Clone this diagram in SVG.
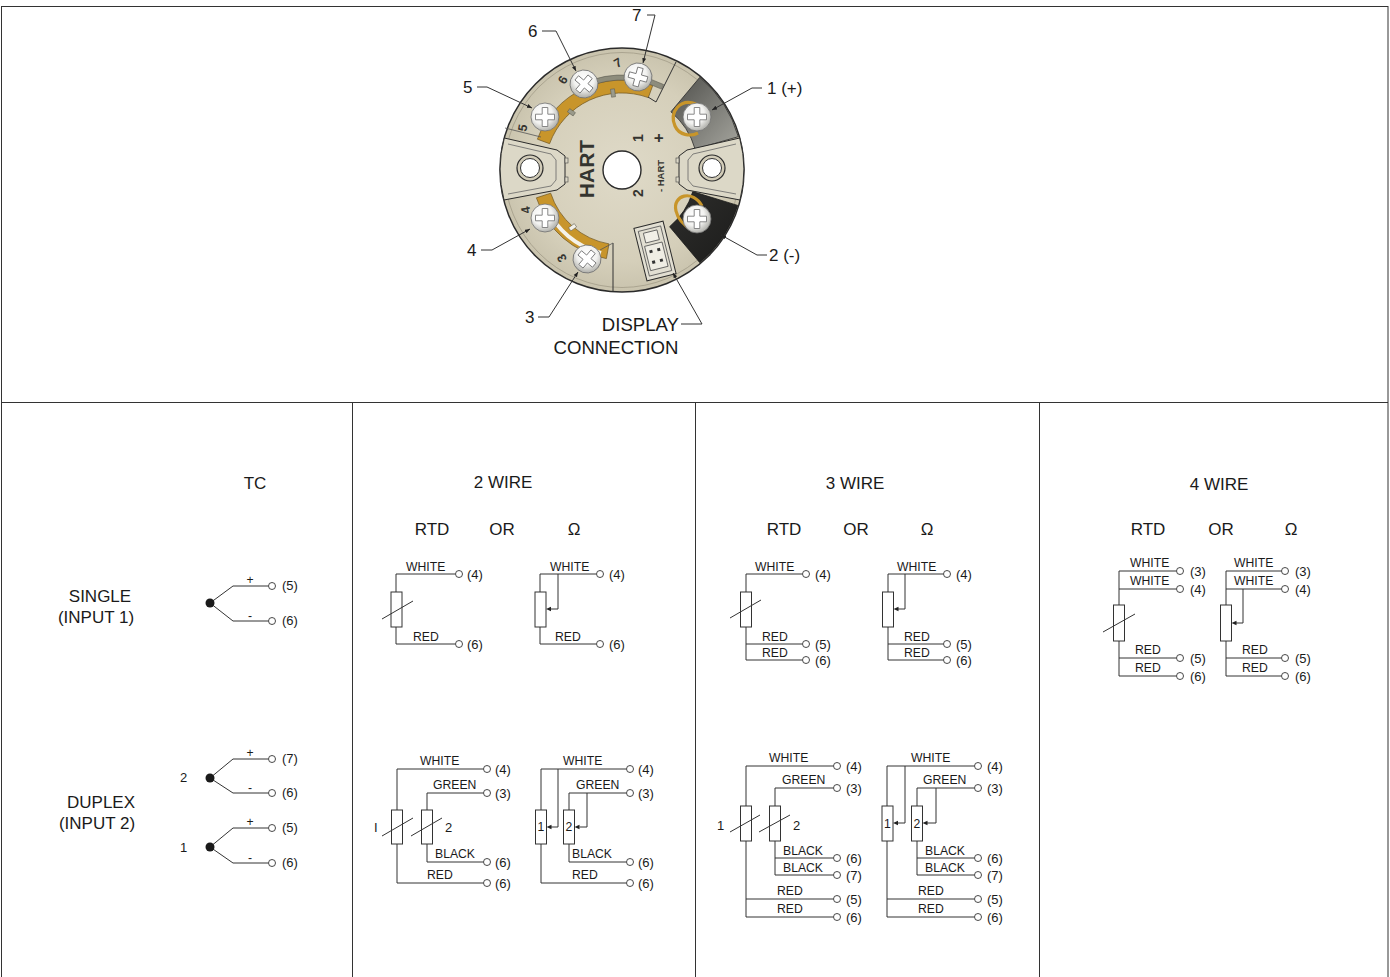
<svg xmlns="http://www.w3.org/2000/svg" width="1390" height="977" viewBox="0 0 1390 977">
  <defs>
    <style>
      .frame { fill: none; stroke: #333; stroke-width: 1; }
      .w { fill: none; stroke: #333; stroke-width: 1; }
      .lead { fill: none; stroke: #333; stroke-width: 1; marker-end: url(#tip); }
      .term { fill: #fff; stroke: #333; stroke-width: 0.9; }
      .res { fill: #fff; stroke: #333; stroke-width: 1; }
      .arr { fill: #222; stroke: none; }
      .dot { fill: #1a1a1a; }
      text { font-family: "Liberation Sans", Arial, sans-serif; fill: #1a1a1a; }
      .big { font-size: 17px; }
      .cap { font-size: 18.6px; }
      .sm { font-size: 12.2px; }
      .tn { font-size: 13px; }
      .mid { text-anchor: middle; }
      .end { text-anchor: end; }
      .dev { font-weight: bold; fill: #34342f; }
    </style>
    <marker id="tip" markerWidth="6" markerHeight="6" refX="5" refY="3" orient="auto" markerUnits="userSpaceOnUse">
      <path d="M0,1 L5,3 L0,5 Z" fill="#222"/>
    </marker>
    <radialGradient id="discFill" cx="0.5" cy="0.5" r="0.5">
      <stop offset="0" stop-color="#dfdac8"/>
      <stop offset="0.75" stop-color="#d5cfba"/>
      <stop offset="1" stop-color="#c9c3ad"/>
    </radialGradient>
    <radialGradient id="screwFill" cx="0.4" cy="0.38" r="0.6">
      <stop offset="0" stop-color="#ffffff"/>
      <stop offset="0.6" stop-color="#f2f2f0"/>
      <stop offset="1" stop-color="#b9b9b4"/>
    </radialGradient>
    <linearGradient id="plusGrey" x1="0" y1="0" x2="1" y2="1">
      <stop offset="0" stop-color="#4e4e4a"/>
      <stop offset="1" stop-color="#a5a59e"/>
    </linearGradient>
    <linearGradient id="minusBlack" x1="0" y1="0" x2="1" y2="1">
      <stop offset="0" stop-color="#2e2e2c"/>
      <stop offset="1" stop-color="#1c1c1b"/>
    </linearGradient>
    <g id="screw">
      <circle r="14" fill="url(#screwFill)" stroke="#707070" stroke-width="0.8"/>
      <path d="M-2.8,-9.5 h5.6 v6.7 h6.7 v5.6 h-6.7 v6.7 h-5.6 v-6.7 h-6.7 v-5.6 h6.7 z" fill="#fff" stroke="#7a7a7a" stroke-width="0.9"/>
    </g>
    <g id="wiperTip">
      <path d="M0,0 L5,-2.2 L5,2.2 Z"/>
    </g>
  </defs>

  <rect width="1390" height="977" fill="#fff"/>

  <!-- panel frame -->
  <g id="frame">
    <rect class="frame" x="1.5" y="6.5" width="1386.5" height="1000"/>
    <line class="frame" x1="1.5" y1="402.5" x2="1388" y2="402.5"/>
    <line class="frame" x1="352.5" y1="402.5" x2="352.5" y2="977"/>
    <line class="frame" x1="695.5" y1="402.5" x2="695.5" y2="977"/>
    <line class="frame" x1="1039.5" y1="402.5" x2="1039.5" y2="977"/>
  </g>

  <!-- transmitter head, top view -->
  <g id="transmitter">
    <circle cx="622" cy="170" r="122" fill="url(#discFill)" stroke="#2b2b2b" stroke-width="1.5"/>
    <circle cx="622" cy="170" r="117.5" fill="none" stroke="#a29c88" stroke-width="0.8"/>

    <!-- input terminal strips -->
    <path d="M537.4,139.2 A90,90 0 0 1 652.8,85.4 L648.3,97.6 A77,77 0 0 0 549.6,143.7 Z" fill="#c8952b" stroke="#6e5520" stroke-width="0.7"/>
    <path d="M571.7,89.4 A95,95 0 0 1 663.7,84.6 L661.5,89.1 A90,90 0 0 0 574.3,93.7 Z" fill="#8d8c7c" stroke="#5c5b50" stroke-width="0.6"/>
    <path d="M536.4,197.8 A90,90 0 0 0 606.4,258.6 L609.0,243.9 A75,75 0 0 1 550.7,193.2 Z" fill="#c8952b" stroke="#6e5520" stroke-width="0.7"/>
    <path d="M546,207 A84,84 0 0 0 601,253" fill="none" stroke="#f4f2ea" stroke-width="4"/>
    <rect x="569" y="109" width="4" height="7" fill="#9a9a8a" stroke="#55554a" stroke-width="0.5" transform="rotate(-55 571 112)"/>
    <rect x="611" y="89" width="4" height="8" fill="#9a9a8a" stroke="#55554a" stroke-width="0.5" transform="rotate(-8 613 93)"/>
    <rect x="571" y="224" width="4" height="7" fill="#f4f2ea" stroke="#55554a" stroke-width="0.5" transform="rotate(55 573 227)"/>

    <!-- block outlines -->
    <path d="M676,62 L656,102 L648,97" class="w"/>
    <path d="M505,128 L541,137" fill="none" stroke="#555" stroke-width="0.8"/>
    <path d="M613,243 L613,291.5" class="w"/>
    <path d="M600,250 L613,243" fill="none" stroke="#555" stroke-width="0.8"/>

    <!-- supply terminal sectors -->
    <path d="M699.8,77.3 A121,121 0 0 1 738.3,136.7 L695.1,149.1 A76,76 0 0 0 670.9,111.8 Z" fill="url(#plusGrey)" stroke="#2b2b2b" stroke-width="0.8"/>
    <path d="M737.7,205.4 A121,121 0 0 1 699.8,262.7 L669.6,226.7 A74,74 0 0 0 692.8,191.6 Z" fill="url(#minusBlack)" stroke="#1a1a1a" stroke-width="0.8"/>

    <!-- mounting ears -->
    <path d="M504.3,138 L557,150 L565,156 L565,184 L557,190 L504,200 A122,122 0 0 1 504.3,138 Z" fill="#dcd8c7" stroke="#2b2b2b" stroke-width="1"/>
    <path d="M508,144 L551,154 L556,160 L556,180 L551,186 L508,194" fill="none" stroke="#666" stroke-width="0.8"/>
    <rect x="565" y="158" width="3" height="5" fill="#dcd8c7" stroke="#444" stroke-width="0.6"/>
    <rect x="565" y="177" width="3" height="5" fill="#dcd8c7" stroke="#444" stroke-width="0.6"/>
    <circle cx="530" cy="168" r="13" fill="#d2ccb8" stroke="#2b2b2b" stroke-width="1.2"/>
    <circle cx="530" cy="168" r="9.5" fill="#fff" stroke="#333" stroke-width="1"/>

    <path d="M739.7,138 L687,150 L679,156 L679,184 L687,190 L740,200 A122,122 0 0 0 739.7,138 Z" fill="#dcd8c7" stroke="#2b2b2b" stroke-width="1"/>
    <path d="M736,144 L693,154 L688,160 L688,180 L693,186 L736,194" fill="none" stroke="#666" stroke-width="0.8"/>
    <rect x="676" y="158" width="3" height="5" fill="#dcd8c7" stroke="#444" stroke-width="0.6"/>
    <rect x="676" y="177" width="3" height="5" fill="#dcd8c7" stroke="#444" stroke-width="0.6"/>
    <circle cx="712" cy="168" r="13" fill="#d2ccb8" stroke="#2b2b2b" stroke-width="1.2"/>
    <circle cx="712" cy="168" r="9.5" fill="#fff" stroke="#333" stroke-width="1"/>

    <!-- centre bore -->
    <circle cx="622" cy="170" r="19" fill="#fff" stroke="#2b2b2b" stroke-width="1.4"/>

    <!-- gold clips of the supply terminals -->
    <path d="M696,104 C680,98 669,112 675,126 C679,135 690,137 698,133" fill="none" stroke="#c8952a" stroke-width="3.2"/>
    <path d="M702,206 C693,189 672,195 676,211 C678,220 685,226 692,230" fill="none" stroke="#c8952a" stroke-width="3.2"/>

    <!-- screws -->
    <use href="#screw" transform="translate(545,117)"/>
    <use href="#screw" transform="translate(584,84) rotate(40)"/>
    <use href="#screw" transform="translate(638,77) rotate(15)"/>
    <use href="#screw" transform="translate(697,117)"/>
    <use href="#screw" transform="translate(697,219)"/>
    <use href="#screw" transform="translate(545,218)"/>
    <use href="#screw" transform="translate(587,259) rotate(40)"/>

    <!-- display plug -->
    <g transform="translate(655,251) rotate(-14)">
      <rect x="-15" y="-27" width="30" height="54" fill="#e2dfd2" stroke="#2b2b2b" stroke-width="1"/>
      <rect x="-11.5" y="-23" width="23" height="46" fill="none" stroke="#555" stroke-width="0.8"/>
      <rect x="-7" y="-20" width="14" height="10" fill="#f1efe7" stroke="#555" stroke-width="0.8"/>
      <rect x="-9" y="-7" width="18" height="25" fill="#efede4" stroke="#555" stroke-width="0.8"/>
      <rect x="-5.5" y="-2" width="3" height="3" fill="#333"/>
      <rect x="2.5" y="-2" width="3" height="3" fill="#333"/>
      <rect x="-5.5" y="9" width="3" height="3" fill="#333"/>
      <rect x="2.5" y="9" width="3" height="3" fill="#333"/>
    </g>

    <!-- printed markings -->
    <text class="dev mid" font-size="21" transform="translate(594,169) rotate(-90)">HART</text>
    <text class="dev mid" font-size="14" transform="translate(643,138) rotate(-90)">1</text>
    <text class="dev mid" font-size="14" transform="translate(643,193) rotate(-90)">2</text>
    <text class="dev mid" font-size="16" transform="translate(664,138) rotate(-90)">+</text>
    <text class="dev mid" font-size="9.5" transform="translate(664,176) rotate(-90)">- HART</text>
    <text class="dev mid" font-size="12.5" transform="translate(523,128) rotate(-80) translate(0,4)">5</text>
    <text class="dev mid" font-size="12.5" transform="translate(563,80) rotate(-60) translate(0,4)">6</text>
    <text class="dev mid" font-size="12.5" transform="translate(618,63) rotate(-30) translate(0,4)">7</text>
    <text class="dev mid" font-size="12.5" transform="translate(526,210) rotate(-100) translate(0,4)">4</text>
    <text class="dev mid" font-size="12.5" transform="translate(562,258) rotate(-120) translate(0,4)">3</text>
  </g>

  <!-- terminal call-outs -->
  <g id="callouts">
    <path class="lead" d="M647,15 H655 L643,63"/>
    <path class="lead" d="M542,31 H556 L576,71"/>
    <path class="lead" d="M477,87 H487 L532,108"/>
    <path class="lead" d="M762,88 H752 L712,110"/>
    <path class="lead" d="M767,255 H757 L721,235"/>
    <path class="lead" d="M481,250 H492 L530,229"/>
    <path class="lead" d="M538,317 H549 L578,272"/>
    <path class="lead" d="M681,324 H702 L673,273"/>
    <text class="big" x="632" y="21">7</text>
    <text class="big" x="528" y="37">6</text>
    <text class="big" x="463" y="93">5</text>
    <text class="big" x="767" y="94">1 (+)</text>
    <text class="big" x="769" y="261">2 (-)</text>
    <text class="big" x="467" y="256">4</text>
    <text class="big" x="525" y="323">3</text>
    <text class="cap end" x="679" y="331">DISPLAY</text>
    <text class="cap mid" x="616" y="354">CONNECTION</text>
  </g>

  <!-- column and row headings -->
  <g id="headings">
    <text class="big mid" x="255" y="489">TC</text>
    <text class="big mid" x="503" y="488">2 WIRE</text>
    <text class="big mid" x="855" y="489">3 WIRE</text>
    <text class="big mid" x="1219" y="490">4 WIRE</text>
    <text class="big mid" x="432" y="535">RTD</text>
    <text class="big mid" x="502" y="535">OR</text>
    <text class="big mid" x="574" y="535">Ω</text>
    <text class="big mid" x="784" y="535">RTD</text>
    <text class="big mid" x="856" y="535">OR</text>
    <text class="big mid" x="927" y="535">Ω</text>
    <text class="big mid" x="1148" y="535">RTD</text>
    <text class="big mid" x="1221" y="535">OR</text>
    <text class="big mid" x="1291" y="535">Ω</text>
    <text class="big mid" x="100" y="602">SINGLE</text>
    <text class="big mid" x="96" y="623">(INPUT 1)</text>
    <text class="big mid" x="101" y="808">DUPLEX</text>
    <text class="big mid" x="97" y="829">(INPUT 2)</text>
  </g>

  <!-- thermocouple, single input -->
  <g id="tc-single">
    <path class="w" d="M210,603 L233,586 H268.5 M210,603 L233,621 H268.5"/>
    <circle class="dot" cx="210" cy="603" r="4.5"/>
    <circle class="term" cx="272" cy="586" r="3.5"/>
    <circle class="term" cx="272" cy="621" r="3.5"/>
    <text class="sm mid" x="250" y="584">+</text>
    <text class="sm mid" x="250" y="620">-</text>
    <text class="tn" x="282" y="590">(5)</text>
    <text class="tn" x="282" y="625">(6)</text>
  </g>

  <!-- thermocouple, duplex input -->
  <g id="tc-duplex">
    <path class="w" d="M210,778 L233,759 H268.5 M210,778 L233,793 H268.5 M210,847 L233,828 H268.5 M210,847 L233,863 H268.5"/>
    <circle class="dot" cx="210" cy="778" r="4.5"/>
    <circle class="dot" cx="210" cy="847" r="4.5"/>
    <circle class="term" cx="272" cy="759" r="3.5"/>
    <circle class="term" cx="272" cy="793" r="3.5"/>
    <circle class="term" cx="272" cy="828" r="3.5"/>
    <circle class="term" cx="272" cy="863" r="3.5"/>
    <text class="sm mid" x="250" y="757">+</text>
    <text class="sm mid" x="250" y="792">-</text>
    <text class="sm mid" x="250" y="826">+</text>
    <text class="sm mid" x="250" y="862">-</text>
    <text class="tn" x="282" y="763">(7)</text>
    <text class="tn" x="282" y="797">(6)</text>
    <text class="tn" x="282" y="832">(5)</text>
    <text class="tn" x="282" y="867">(6)</text>
    <text class="tn" x="180" y="782">2</text>
    <text class="tn" x="180" y="852">1</text>
  </g>

  <!-- 2 wire RTD, single -->
  <g id="rtd2-single">
    <path class="w" d="M455.5,574 H396 V644 H455.5"/>
    <rect class="res" x="391" y="592" width="11" height="35"/>
    <line class="w" x1="382" y1="619" x2="413" y2="601"/>
    <circle class="term" cx="459" cy="574" r="3.5"/>
    <circle class="term" cx="459" cy="644" r="3.5"/>
    <text class="sm" x="406" y="571">WHITE</text>
    <text class="sm" x="413" y="641">RED</text>
    <text class="tn" x="467" y="579">(4)</text>
    <text class="tn" x="467" y="649">(6)</text>
  </g>

  <!-- 2 wire potentiometer, single -->
  <g id="ohm2-single">
    <path class="w" d="M596.5,574 H540 V644 H596.5"/>
    <rect class="res" x="535" y="592" width="11" height="35"/>
    <path class="w" d="M558,574 V609 H550"/>
    <use href="#wiperTip" class="arr" transform="translate(546,609)"/>
    <circle class="term" cx="600" cy="574" r="3.5"/>
    <circle class="term" cx="600" cy="644" r="3.5"/>
    <text class="sm" x="550" y="571">WHITE</text>
    <text class="sm" x="555" y="641">RED</text>
    <text class="tn" x="609" y="579">(4)</text>
    <text class="tn" x="609" y="649">(6)</text>
  </g>

  <!-- 2 wire RTD, duplex -->
  <g id="rtd2-duplex">
    <path class="w" d="M483.5,769 H397 V883 H483.5 M483.5,793 H427 V862 H483.5"/>
    <rect class="res" x="391.5" y="810" width="11" height="34"/>
    <rect class="res" x="421.5" y="810" width="11" height="34"/>
    <line class="w" x1="382" y1="836" x2="413" y2="818"/>
    <line class="w" x1="411" y1="836" x2="442" y2="818"/>
    <circle class="term" cx="487" cy="769" r="3.5"/>
    <circle class="term" cx="487" cy="793" r="3.5"/>
    <circle class="term" cx="487" cy="862" r="3.5"/>
    <circle class="term" cx="487" cy="883" r="3.5"/>
    <text class="sm" x="420" y="765">WHITE</text>
    <text class="sm" x="433" y="789">GREEN</text>
    <text class="sm" x="435" y="858">BLACK</text>
    <text class="sm" x="427" y="879">RED</text>
    <text class="tn" x="495" y="774">(4)</text>
    <text class="tn" x="495" y="798">(3)</text>
    <text class="tn" x="495" y="867">(6)</text>
    <text class="tn" x="495" y="888">(6)</text>
    <text class="tn" x="374" y="832">I</text>
    <text class="tn" x="445" y="832">2</text>
  </g>

  <!-- 2 wire potentiometer, duplex -->
  <g id="ohm2-duplex">
    <path class="w" d="M626.5,769 H541 V883 H626.5 M626.5,793 H569 V862 H626.5"/>
    <rect class="res" x="535.5" y="810" width="11" height="34"/>
    <rect class="res" x="563.5" y="810" width="11" height="34"/>
    <path class="w" d="M558,769 V827 H550.5 M587,793 V827 H579.5"/>
    <use href="#wiperTip" class="arr" transform="translate(546.5,827)"/>
    <use href="#wiperTip" class="arr" transform="translate(574.5,827)"/>
    <text class="sm mid" x="541" y="831">1</text>
    <text class="sm mid" x="569" y="831">2</text>
    <circle class="term" cx="630" cy="769" r="3.5"/>
    <circle class="term" cx="630" cy="793" r="3.5"/>
    <circle class="term" cx="630" cy="862" r="3.5"/>
    <circle class="term" cx="630" cy="883" r="3.5"/>
    <text class="sm" x="563" y="765">WHITE</text>
    <text class="sm" x="576" y="789">GREEN</text>
    <text class="sm" x="572" y="858">BLACK</text>
    <text class="sm" x="572" y="879">RED</text>
    <text class="tn" x="638" y="774">(4)</text>
    <text class="tn" x="638" y="798">(3)</text>
    <text class="tn" x="638" y="867">(6)</text>
    <text class="tn" x="638" y="888">(6)</text>
  </g>

  <!-- 3 wire RTD, single -->
  <g id="rtd3-single">
    <path class="w" d="M802.5,574 H746 V660 H802.5 M746,644 H802.5"/>
    <rect class="res" x="740.5" y="592" width="11" height="35"/>
    <line class="w" x1="730" y1="618" x2="761" y2="600"/>
    <circle class="term" cx="806" cy="574" r="3.5"/>
    <circle class="term" cx="806" cy="644" r="3.5"/>
    <circle class="term" cx="806" cy="660" r="3.5"/>
    <text class="sm" x="755" y="571">WHITE</text>
    <text class="sm" x="762" y="641">RED</text>
    <text class="sm" x="762" y="657">RED</text>
    <text class="tn" x="815" y="579">(4)</text>
    <text class="tn" x="815" y="649">(5)</text>
    <text class="tn" x="815" y="665">(6)</text>
  </g>

  <!-- 3 wire potentiometer, single -->
  <g id="ohm3-single">
    <path class="w" d="M943.5,574 H888 V660 H943.5 M888,644 H943.5"/>
    <rect class="res" x="882.5" y="592" width="11" height="35"/>
    <path class="w" d="M905,574 V609 H897.5"/>
    <use href="#wiperTip" class="arr" transform="translate(893.5,609)"/>
    <circle class="term" cx="947" cy="574" r="3.5"/>
    <circle class="term" cx="947" cy="644" r="3.5"/>
    <circle class="term" cx="947" cy="660" r="3.5"/>
    <text class="sm" x="897" y="571">WHITE</text>
    <text class="sm" x="904" y="641">RED</text>
    <text class="sm" x="904" y="657">RED</text>
    <text class="tn" x="956" y="579">(4)</text>
    <text class="tn" x="956" y="649">(5)</text>
    <text class="tn" x="956" y="665">(6)</text>
  </g>

  <!-- 3 wire RTD, duplex -->
  <g id="rtd3-duplex">
    <path class="w" d="M833.5,766 H746 V917 H833.5 M746,899 H833.5 M833.5,788 H775 V875 H833.5 M775,858 H833.5"/>
    <rect class="res" x="740.5" y="806" width="11" height="35"/>
    <rect class="res" x="769.5" y="806" width="11" height="35"/>
    <line class="w" x1="730" y1="832" x2="760" y2="815"/>
    <line class="w" x1="759" y1="832" x2="790" y2="815"/>
    <circle class="term" cx="837" cy="766" r="3.5"/>
    <circle class="term" cx="837" cy="788" r="3.5"/>
    <circle class="term" cx="837" cy="858" r="3.5"/>
    <circle class="term" cx="837" cy="875" r="3.5"/>
    <circle class="term" cx="837" cy="899" r="3.5"/>
    <circle class="term" cx="837" cy="917" r="3.5"/>
    <text class="sm" x="769" y="762">WHITE</text>
    <text class="sm" x="782" y="784">GREEN</text>
    <text class="sm" x="783" y="855">BLACK</text>
    <text class="sm" x="783" y="872">BLACK</text>
    <text class="sm" x="777" y="895">RED</text>
    <text class="sm" x="777" y="913">RED</text>
    <text class="tn" x="846" y="771">(4)</text>
    <text class="tn" x="846" y="793">(3)</text>
    <text class="tn" x="846" y="863">(6)</text>
    <text class="tn" x="846" y="880">(7)</text>
    <text class="tn" x="846" y="904">(5)</text>
    <text class="tn" x="846" y="922">(6)</text>
    <text class="tn" x="717" y="830">1</text>
    <text class="tn" x="793" y="830">2</text>
  </g>

  <!-- 3 wire potentiometer, duplex -->
  <g id="ohm3-duplex">
    <path class="w" d="M974.5,766 H887 V917 H974.5 M887,899 H974.5 M974.5,788 H917 V875 H974.5 M917,858 H974.5"/>
    <rect class="res" x="882" y="806" width="11" height="35"/>
    <rect class="res" x="911.5" y="806" width="11" height="35"/>
    <path class="w" d="M905,766 V823 H897 M936,788 V823 H926.5"/>
    <use href="#wiperTip" class="arr" transform="translate(893,823)"/>
    <use href="#wiperTip" class="arr" transform="translate(922.5,823)"/>
    <text class="sm mid" x="887.5" y="828">1</text>
    <text class="sm mid" x="917" y="828">2</text>
    <circle class="term" cx="978" cy="766" r="3.5"/>
    <circle class="term" cx="978" cy="788" r="3.5"/>
    <circle class="term" cx="978" cy="858" r="3.5"/>
    <circle class="term" cx="978" cy="875" r="3.5"/>
    <circle class="term" cx="978" cy="899" r="3.5"/>
    <circle class="term" cx="978" cy="917" r="3.5"/>
    <text class="sm" x="911" y="762">WHITE</text>
    <text class="sm" x="923" y="784">GREEN</text>
    <text class="sm" x="925" y="855">BLACK</text>
    <text class="sm" x="925" y="872">BLACK</text>
    <text class="sm" x="918" y="895">RED</text>
    <text class="sm" x="918" y="913">RED</text>
    <text class="tn" x="987" y="771">(4)</text>
    <text class="tn" x="987" y="793">(3)</text>
    <text class="tn" x="987" y="863">(6)</text>
    <text class="tn" x="987" y="880">(7)</text>
    <text class="tn" x="987" y="904">(5)</text>
    <text class="tn" x="987" y="922">(6)</text>
  </g>

  <!-- 4 wire RTD -->
  <g id="rtd4">
    <path class="w" d="M1176.5,571 H1119 V676 H1176.5 M1119,589 H1176.5 M1119,658 H1176.5"/>
    <rect class="res" x="1113.5" y="605" width="11" height="36"/>
    <line class="w" x1="1103" y1="632" x2="1135" y2="614"/>
    <circle class="term" cx="1180" cy="571" r="3.5"/>
    <circle class="term" cx="1180" cy="589" r="3.5"/>
    <circle class="term" cx="1180" cy="658" r="3.5"/>
    <circle class="term" cx="1180" cy="676" r="3.5"/>
    <text class="sm" x="1130" y="567">WHITE</text>
    <text class="sm" x="1130" y="585">WHITE</text>
    <text class="sm" x="1135" y="654">RED</text>
    <text class="sm" x="1135" y="672">RED</text>
    <text class="tn" x="1190" y="576">(3)</text>
    <text class="tn" x="1190" y="594">(4)</text>
    <text class="tn" x="1190" y="663">(5)</text>
    <text class="tn" x="1190" y="681">(6)</text>
  </g>

  <!-- 4 wire potentiometer -->
  <g id="ohm4">
    <path class="w" d="M1281.5,571 H1226 V676 H1281.5 M1226,589 H1281.5 M1226,658 H1281.5"/>
    <rect class="res" x="1220.5" y="605" width="11" height="36"/>
    <path class="w" d="M1243,589 V623 H1235.5"/>
    <use href="#wiperTip" class="arr" transform="translate(1231.5,623)"/>
    <circle class="term" cx="1285" cy="571" r="3.5"/>
    <circle class="term" cx="1285" cy="589" r="3.5"/>
    <circle class="term" cx="1285" cy="658" r="3.5"/>
    <circle class="term" cx="1285" cy="676" r="3.5"/>
    <text class="sm" x="1234" y="567">WHITE</text>
    <text class="sm" x="1234" y="585">WHITE</text>
    <text class="sm" x="1242" y="654">RED</text>
    <text class="sm" x="1242" y="672">RED</text>
    <text class="tn" x="1295" y="576">(3)</text>
    <text class="tn" x="1295" y="594">(4)</text>
    <text class="tn" x="1295" y="663">(5)</text>
    <text class="tn" x="1295" y="681">(6)</text>
  </g>
</svg>
